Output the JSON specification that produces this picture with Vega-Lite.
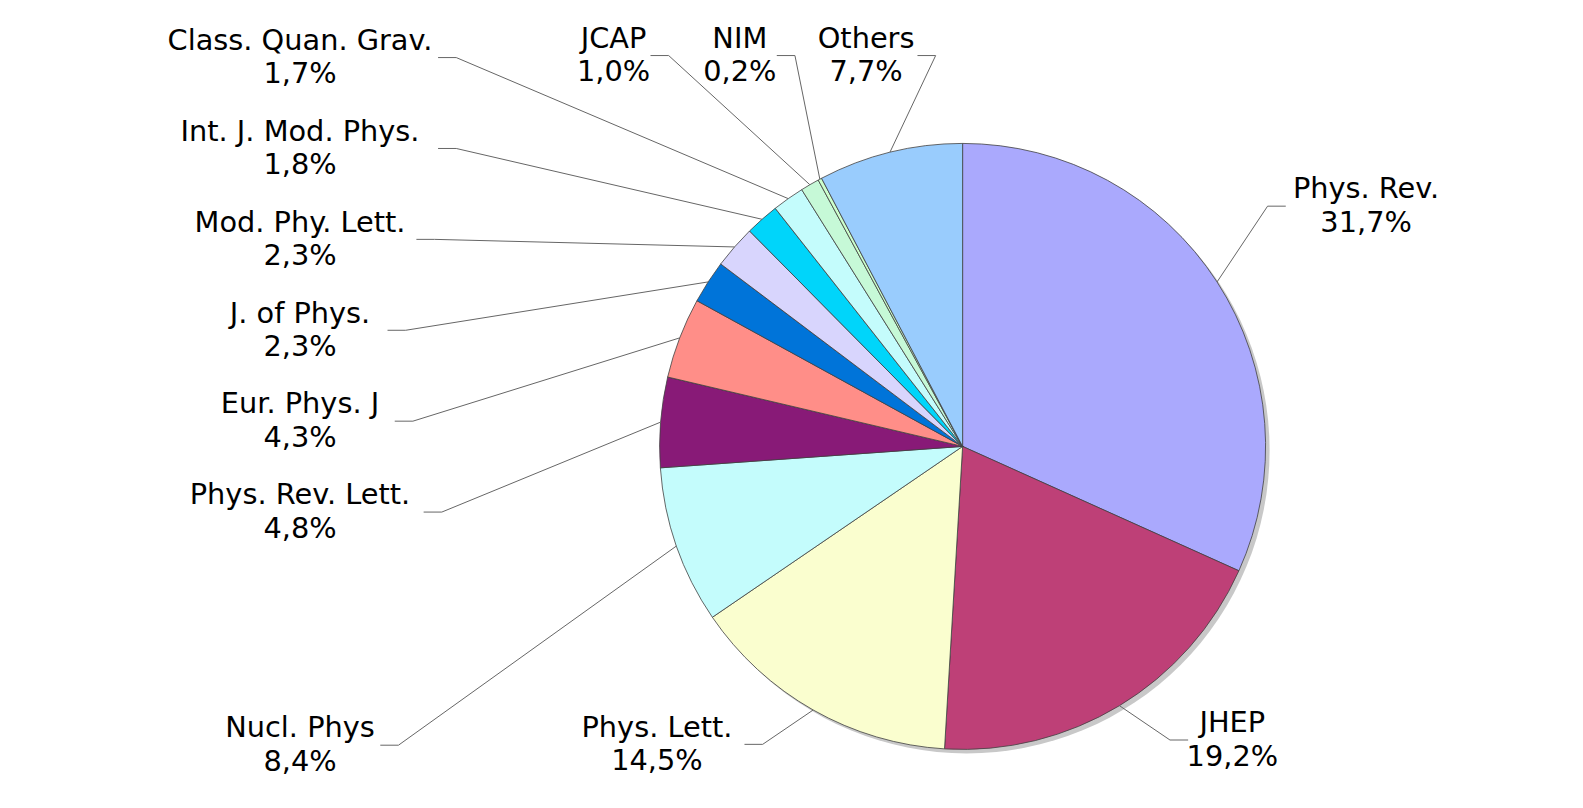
{
  "$schema": "https://vega.github.io/schema/vega-lite/v6.json",
  "width": 1583,
  "height": 808,
  "autosize": {"type": "none"},
  "padding": 0,
  "background": "white",
  "config": {"view": {"stroke": null}},
  "data": {
    "values": [
      {"journal": "Phys. Rev.", "pct": 31.7},
      {"journal": "JHEP", "pct": 19.2},
      {"journal": "Phys. Lett.", "pct": 14.5},
      {"journal": "Nucl. Phys", "pct": 8.4},
      {"journal": "Phys. Rev. Lett.", "pct": 4.8},
      {"journal": "Eur. Phys. J", "pct": 4.3},
      {"journal": "J. of Phys.", "pct": 2.3},
      {"journal": "Mod. Phy. Lett.", "pct": 2.3},
      {"journal": "Int. J. Mod. Phys.", "pct": 1.8},
      {"journal": "Class. Quan. Grav.", "pct": 1.7},
      {"journal": "JCAP", "pct": 1.0},
      {"journal": "NIM", "pct": 0.2},
      {"journal": "Others", "pct": 7.7}
    ]
  },
  "transform": [
    {"window": [{"op": "row_number", "as": "idx"}]},
    {"stack": "pct", "groupby": [], "sort": [{"field": "idx", "order": "ascending"}], "as": ["p0", "p1"]},
    {"joinaggregate": [{"op": "sum", "field": "pct", "as": "total"}]},
    {"calculate": "datum.p0 / datum.total", "as": "f0"},
    {"calculate": "datum.p1 / datum.total", "as": "f1"},
    {"calculate": "PI * (datum.f0 + datum.f1)", "as": "rad"},
    {"calculate": "datum.rad * 180 / PI", "as": "deg"},
    {"calculate": "300 * sin(datum.rad)", "as": "ex"},
    {"calculate": "300 * cos(datum.rad)", "as": "ey"},
    {"calculate": "datum.deg < 235 ? 'R' : (datum.deg >= 327 ? 'T' : 'L')", "as": "grp"},
    {"calculate": "replace(format(datum.pct, '.1f'), '.', ',') + '%'", "as": "pctTxt"},
    {"calculate": "datum.journal + '\\n' + datum.pctTxt", "as": "lbl"},
    {"calculate": "max(length(datum.journal), length(datum.pctTxt)) * 14.3", "as": "w"},
    {"calculate": "datum.grp == 'L' ? min(3 * datum.ey, 385) : (datum.grp == 'T' ? 387 * tan(datum.rad) : 0)", "as": "nat"},
    {"calculate": "datum.grp == 'L' ? 90 : (datum.grp == 'T' ? 125 : 0)", "as": "sp"},
    {"window": [{"op": "row_number", "as": "k1"}], "groupby": ["grp"], "sort": [{"field": "deg", "order": "descending"}]},
    {"calculate": "datum.nat + (datum.k1 - 1) * datum.sp", "as": "v"},
    {"window": [{"op": "min", "field": "v", "as": "vm"}], "groupby": ["grp"], "sort": [{"field": "deg", "order": "descending"}], "frame": [null, 0]},
    {"calculate": "datum.vm - (datum.k1 - 1) * datum.sp", "as": "pos"},
    {"calculate": "datum.grp == 'R' ? (datum.ex >= 0 ? 1 : -1) : -1", "as": "s"},
    {"calculate": "datum.grp == 'R' ? datum.ex + 50 * datum.s : ((datum.grp == 'L' ? -656 : datum.pos) + datum.w / 2 + 26)", "as": "bx"},
    {"calculate": "datum.grp == 'R' ? datum.ey + (datum.ey >= 0 ? 75 : -34) : (datum.grp == 'L' ? datum.pos : 387)", "as": "by"},
    {"calculate": "datum.bx + datum.s * 18", "as": "sx"},
    {"calculate": "datum.sx + datum.s * (datum.w / 2 + 8)", "as": "lx"}
  ],
  "layer": [
    {
      "transform": [{"filter": "datum.idx == 1"}],
      "mark": {"type": "arc", "outerRadius": 303, "theta": 0, "theta2": 6.2832, "fill": "#c8c8c8", "xOffset": 4, "yOffset": 4},
      "encoding": {
        "x": {"datum": 0, "type": "quantitative", "scale": {"domain": [-953, 614.2], "nice": false, "zero": false}, "axis": null},
        "y": {"datum": 0, "type": "quantitative", "scale": {"domain": [-358, 442], "nice": false, "zero": false}, "axis": null}
      }
    },
    {
      "mark": {"type": "arc", "outerRadius": 303, "stroke": "#404040", "strokeWidth": 0.8},
      "encoding": {
        "x": {"datum": 0, "type": "quantitative", "scale": {"domain": [-953, 614.2], "nice": false, "zero": false}, "axis": null},
        "y": {"datum": 0, "type": "quantitative", "scale": {"domain": [-358, 442], "nice": false, "zero": false}, "axis": null},
        "theta": {"field": "f0", "type": "quantitative", "stack": null, "scale": {"domain": [0, 1], "range": [0, 6.283185307179586]}},
        "theta2": {"field": "f1"},
        "color": {
          "field": "journal",
          "type": "nominal",
          "legend": null,
          "scale": {
            "domain": ["Phys. Rev.", "JHEP", "Phys. Lett.", "Nucl. Phys", "Phys. Rev. Lett.", "Eur. Phys. J", "J. of Phys.", "Mod. Phy. Lett.", "Int. J. Mod. Phys.", "Class. Quan. Grav.", "JCAP", "NIM", "Others"],
            "range": ["#aaa9fd", "#be4077", "#fafecf", "#c4fcfc", "#881a77", "#ff8e88", "#0074d9", "#d8d5fd", "#00d5fa", "#c4fcfc", "#c6f9d7", "#ccffcc", "#99ccfd"]
          }
        }
      }
    },
    {
      "mark": {"type": "rule", "color": "#666666", "strokeWidth": 1},
      "encoding": {
        "x": {"field": "ex", "type": "quantitative", "scale": {"domain": [-953, 614.2], "nice": false, "zero": false}, "axis": null},
        "y": {"field": "ey", "type": "quantitative", "scale": {"domain": [-358, 442], "nice": false, "zero": false}, "axis": null},
        "x2": {"field": "bx"},
        "y2": {"field": "by"}
      }
    },
    {
      "mark": {"type": "rule", "color": "#666666", "strokeWidth": 1},
      "encoding": {
        "x": {"field": "bx", "type": "quantitative", "scale": {"domain": [-953, 614.2], "nice": false, "zero": false}, "axis": null},
        "y": {"field": "by", "type": "quantitative", "scale": {"domain": [-358, 442], "nice": false, "zero": false}, "axis": null},
        "x2": {"field": "sx"},
        "y2": {"field": "by"}
      }
    },
    {
      "mark": {"type": "text", "font": "DejaVu Sans", "fontSize": 28.8, "lineHeight": 33.3, "lineBreak": "\n", "align": "center", "baseline": "middle", "dy": -16.7, "color": "#000000"},
      "encoding": {
        "x": {"field": "lx", "type": "quantitative", "scale": {"domain": [-953, 614.2], "nice": false, "zero": false}, "axis": null},
        "y": {"field": "by", "type": "quantitative", "scale": {"domain": [-358, 442], "nice": false, "zero": false}, "axis": null},
        "text": {"field": "lbl"}
      }
    }
  ]
}
